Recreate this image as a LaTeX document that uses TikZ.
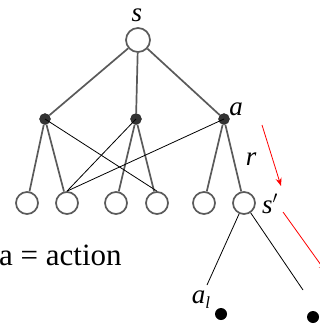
\documentclass[tikz,border=0pt]{standalone}
\usepackage{fontspec}
\setmainfont{Liberation Serif}
\usetikzlibrary{arrows.meta}
\definecolor{treegray}{HTML}{5A5A5A}
\begin{document}
\begin{tikzpicture}[x=1pt,y=-1pt,
  statenode/.style={circle,draw=treegray,line width=1.7pt,fill=white,minimum size=22pt,inner sep=0pt},
  rootnode/.style={statenode,minimum size=24pt},
  actnode/.style={circle,fill=black!80,draw=black!85,minimum size=11pt,inner sep=0pt},
  leafdot/.style={circle,fill=black,minimum size=12pt,inner sep=0pt},
  treeedge/.style={treegray,line width=1.7pt},
  crossedge/.style={black,line width=0.8pt},
  lbl/.style={font=\itshape\fontsize{27}{27}\selectfont,inner sep=0pt,anchor=base},
  redarrow/.style={red,line width=0.8pt,-{Stealth[length=8pt,width=6pt]}}]
\useasboundingbox (0,0) rectangle (320,326);
\begin{scope}
\clip (0,0) rectangle (320,326);

% root state and its three actions
\node[rootnode] (s) at (138,40) {};
\node[actnode] (a1) at (45,119) {};
\node[actnode] (a2) at (136,119) {};
\node[actnode] (a3) at (224,119) {};

% successor states
\node[statenode] (l1) at (27,203) {};
\node[statenode] (l2) at (67,203) {};
\node[statenode] (l3) at (116,203) {};
\node[statenode] (l4) at (157,203) {};
\node[statenode] (l5) at (204,203) {};
\node[statenode] (sp) at (244,203) {};

% tree edges
\draw[treeedge] (s) -- (a1);
\draw[treeedge] (s) -- (a2);
\draw[treeedge] (s) -- (a3);
\draw[treeedge] (a1) -- (l1);
\draw[treeedge] (a1) -- (l2);
\draw[treeedge] (a2) -- (l3);
\draw[treeedge] (a2) -- (l4);
\draw[treeedge] (a3) -- (l5);
\draw[treeedge] (a3) -- (sp);

% crossing transitions
\draw[crossedge] (a1.center) -- (l4.north);
\draw[crossedge] (a2.center) -- (l2.north);
\draw[crossedge] (a3.center) -- (l2.north);

% next step from s'
\node[leafdot] (d1) at (221,314) {};
\node[leafdot] (d2) at (313,317) {};
\coordinate (e1) at (207,285);
\coordinate (e2) at (303,290);
\draw[crossedge] (sp) -- (e1);
\draw[crossedge] (sp) -- (e2);

% labels
\node[lbl] (ls) at (137,22) {s};
\node[lbl] (la) at (236,115) {a};
\node[lbl] (lr) at (251,165) {r};
\node[lbl] (lsp) at (270,213) {s$'$};
\node[lbl] (lal) at (201,303) {a\raisebox{-5pt}{\fontsize{17}{17}\selectfont l}};
\node[font=\fontsize{31}{31}\selectfont,inner sep=0pt,anchor=base west] (act) at (-1,265) {a = action};

% red arrows
\coordinate (r1a) at (262,125);
\coordinate (r1b) at (281,186);
\coordinate (r2a) at (283,212);
\coordinate (r2b) at (326,272);
\draw[redarrow] (r1a) -- (r1b);
\draw[redarrow] (r2a) -- (r2b);
\end{scope}
\end{tikzpicture}
\end{document}
